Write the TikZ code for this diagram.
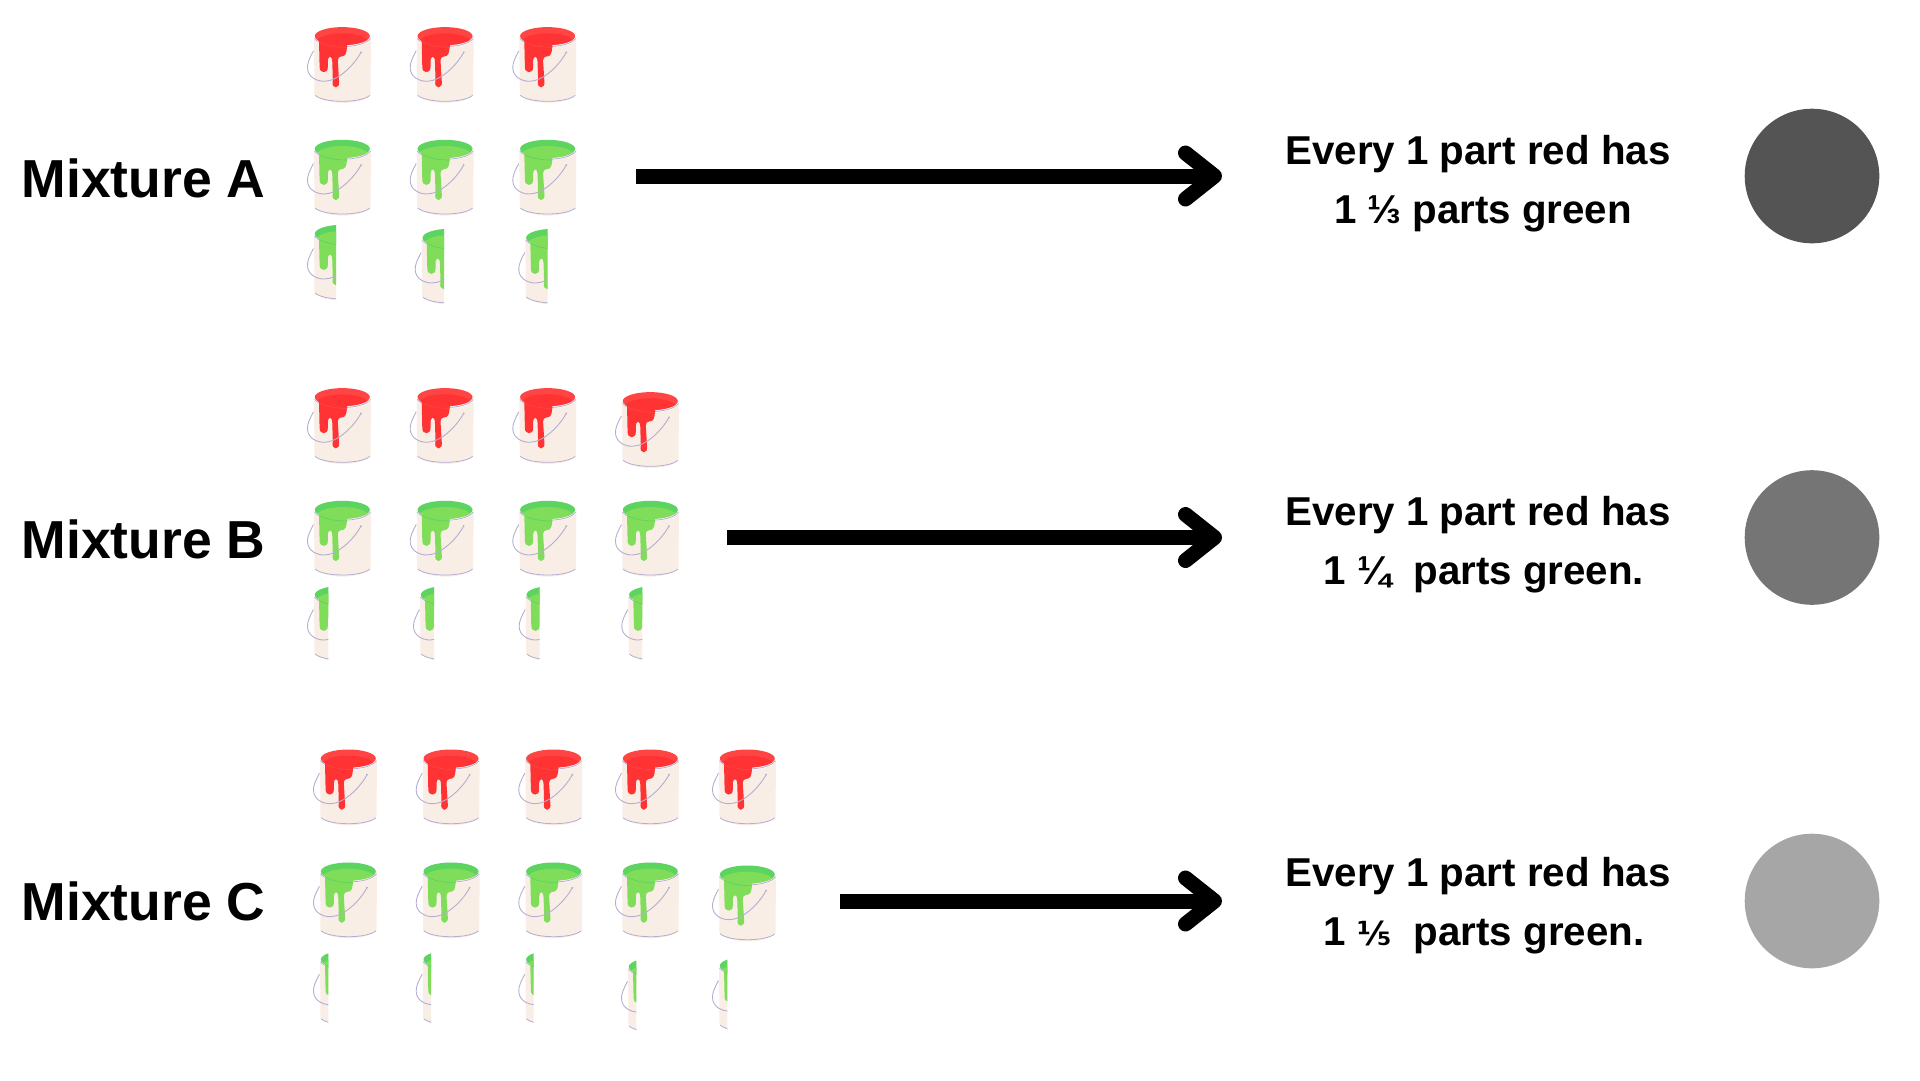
\documentclass[tikz,border=0pt]{standalone}
\usepackage{fontspec}
\usepackage{xcolor}
\usetikzlibrary{arrows.meta}
\setmainfont{Liberation Sans}
\newfontfamily\fracfont{DejaVu Sans}
\definecolor{canbody}{HTML}{F9EEE5}
\definecolor{canline}{HTML}{B4AED2}
\definecolor{redpaint}{HTML}{FF3333}
\definecolor{redrim}{HTML}{FF4444}
\definecolor{greenpaint}{HTML}{80DD5A}
\definecolor{greenrim}{HTML}{5DD45F}
\tikzset{
  mixlabel/.style={font=\fontsize{53.5}{53.5}\selectfont\bfseries, anchor=base west, inner sep=0pt},
  ratiotext/.style={font=\fontsize{40.3}{40.3}\selectfont\bfseries, anchor=base, inner sep=0pt},
  bigarrow/.style={-{Straight Barb[round,length=29pt,width=46pt,line width=15pt]}, line width=15pt},
  shade dot/.style={circle, minimum size=134.6pt, inner sep=0pt},
  pics/paintcan/.style n args={3}{code={
    \begin{scope}
    \clip (-10,-2) rectangle (#3,80);
    \fill[canbody] (0,9) -- (0.5,67) .. controls (8,78.5) and (49,78.5) .. (56.5,67) -- (57,9)
      .. controls (57,-3) and (0,-3) .. (0,9) -- cycle;
    \draw[white, line width=1.2pt] (28.5,9.5) ellipse (28.3 and 9.9);
    \draw[canline, line width=0.8pt] (0.5,11) .. controls (8,22) and (49,22) .. (56.5,11);
    \fill[#1] (28.3,8.8) ellipse (27.5 and 9);
    \begin{scope}
    \clip (28.3,8.8) ellipse (27.5 and 9);
    \fill[#2] (28.3,15.5) ellipse (26.5 and 9.5);
    \end{scope}
    \fill[#2] (5,13) -- (5.6,40) .. controls (5.6,46.5) and (14,46.5) .. (13.8,40) -- (13.8,35)
      .. controls (13.8,27.5) and (18.2,27.5) .. (18.3,35) -- (18.8,53)
      .. controls (16.5,62.5) and (27,62.5) .. (25,53) -- (23.8,33)
      .. controls (24.3,28) and (28,30) .. (30,28.5) .. controls (32.7,27) and (32.7,22) .. (33.2,17)
      .. controls (24,18) and (12,17) .. (5,13) -- cycle;
    \draw[#1, line width=0.7pt] (6,15) .. controls (14,19) and (24,20) .. (33,20);
    \draw[canline, line width=0.8pt] (1,68) .. controls (10,76) and (47,76) .. (56,68);
    \draw[canline, line width=0.9pt] (-0.5,23.5) .. controls (-4,30) and (-7,36) .. (-6.5,41)
      .. controls (-6,50) and (3,54) .. (10,54) .. controls (24,54) and (40,38) .. (47,25);
    \fill[canline] (47,25) circle (1);
    \end{scope}
  }}
}

\begin{document}
\begin{tikzpicture}[x=1pt, y=-1pt]
\useasboundingbox (0,0) rectangle (1920,1080);

% mixture A
\foreach \x in {314,416.7,519.3}
  \pic at (\x,27.3) {paintcan={redrim}{redpaint}{60}};
\foreach \x in {314,416.7,519.3}
  \pic at (\x,140) {paintcan={greenrim}{greenpaint}{60}};
\foreach \x/\y/\w in {314/225/22,421.7/229/22.3,525.3/229/22.4}
  \pic at (\x,\y) {paintcan={greenrim}{greenpaint}{\w}};

% mixture B
\foreach \x/\y in {314/388.3,416.7/388.3,519.3/388.3,622/392.3}
  \pic at (\x,\y) {paintcan={redrim}{redpaint}{60}};
\foreach \x in {314,416.7,519.3,622}
  \pic at (\x,501) {paintcan={greenrim}{greenpaint}{60}};
\foreach \x/\w in {314/14.3,420/14,525.7/14,628.3/14}
  \pic at (\x,586) {paintcan={greenrim}{greenpaint}{\w}};

% mixture C
\foreach \x in {320,422.7,525.3,622,719}
  \pic at (\x,749.7) {paintcan={redrim}{redpaint}{60}};
\foreach \x/\y in {320/862.7,422.7/862.7,525.3/862.7,622/862.7,719/865.7}
  \pic at (\x,\y) {paintcan={greenrim}{greenpaint}{60}};
\foreach \x/\y/\w in {320/950.7/8.3,422.7/950.7/8.3,525.3/950.7/8.4,628/958/8.3,719/957/8.3}
  \pic at (\x,\y) {paintcan={greenrim}{greenpaint}{\w}};

\node[mixlabel] (labelA) at (21.5,197.2) {Mixture A};
\node[mixlabel] (labelB) at (21.5,558.5) {Mixture B};
\node[mixlabel] (labelC) at (21.5,920) {Mixture C};

\coordinate (startA) at (636,176);
\coordinate (endA) at (1222,176);
\coordinate (startB) at (727,537.5);
\coordinate (endB) at (1222,537.5);
\coordinate (startC) at (840,901);
\coordinate (endC) at (1222,901);
\draw[bigarrow] (startA) -- (endA);
\draw[bigarrow] (startB) -- (endB);
\draw[bigarrow] (startC) -- (endC);

\node[ratiotext] (everyA) at (1478,164) {Every 1 part red has};
\node[ratiotext] (partsA) at (1483,223) {1 ⅓ parts green};
\node[ratiotext] (everyB) at (1478,525) {Every 1 part red has};
\node[ratiotext] (partsB) at (1484,584) {1 ¼\ \ parts green.};
\node[ratiotext] (everyC) at (1478,886) {Every 1 part red has};
\node[ratiotext] (partsC) at (1484,945) {1 {\fracfont\fontsize{33}{33}\selectfont ⅕}\ \ parts green.};

\node[shade dot, fill=black!67] (dotA) at (1812,176) {};
\node[shade dot, fill=black!54] (dotB) at (1812,537.5) {};
\node[shade dot, fill=black!35] (dotC) at (1812,901) {};
\end{tikzpicture}
\end{document}
